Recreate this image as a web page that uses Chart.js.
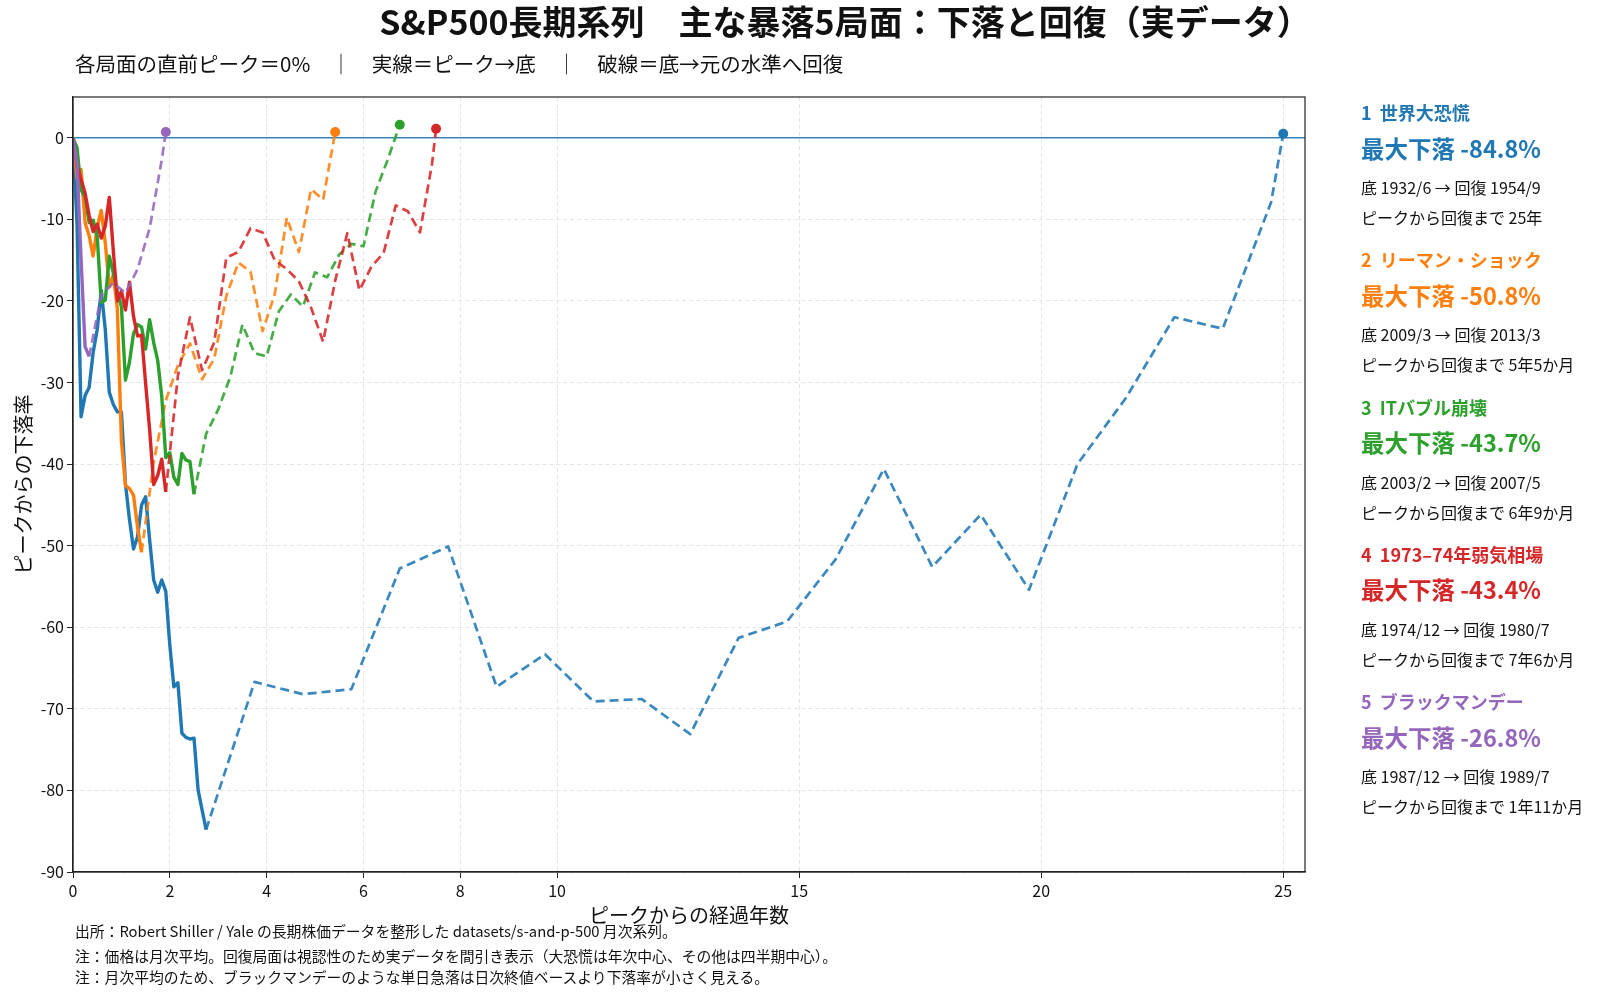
<!DOCTYPE html>
<html lang="ja">
<head>
<meta charset="utf-8">
<script src="https://cdn.jsdelivr.net/npm/chart.js@4.4.0/dist/chart.umd.min.js"></script>
<style>
  html, body { margin: 0; padding: 0; background: #fff; }
  #wrap { position: relative; width: 1600px; height: 997px; overflow: hidden; font-family: "Noto Sans CJK JP", "Noto Sans", sans-serif; color: #111; }
  #chart { position: absolute; left: 0; top: 0; }
  .t { position: absolute; white-space: pre; line-height: 1; }
</style>
</head>
<body>
<div id="wrap">
  <canvas id="chart" width="1600" height="997"></canvas>
  <div class="t" style="left:845px;top:4px;font-size:34px;font-weight:bold;transform:translateX(-50%)">S&amp;P500長期系列　主な暴落5局面：下落と回復（実データ）</div>
  <div class="t" style="left:75px;top:53px;font-size:20.5px">各局面の直前ピーク＝0%　｜　実線＝ピーク→底　｜　破線＝底→元の水準へ回復</div>
  <div id="legend"></div>
  <div class="t" style="left:75px;top:924px;font-size:14.8px">出所：Robert Shiller / Yale の長期株価データを整形した datasets/s-and-p-500 月次系列。</div>
  <div class="t" style="left:75px;top:949px;font-size:14.8px">注：価格は月次平均。回復局面は視認性のため実データを間引き表示（大恐慌は年次中心、その他は四半期中心）。</div>
  <div class="t" style="left:75px;top:970px;font-size:14.8px">注：月次平均のため、ブラックマンデーのような単日急落は日次終値ベースより下落率が小さく見える。</div>
</div>
<script>
// ---- data (drawdown % from the prior peak) ----
var names = ["1  世界大恐慌", "2  リーマン・ショック", "3  ITバブル崩壊", "4  1973–74年弱気相場", "5  ブラックマンデー"];
var colors = ["#1f77b4", "#ff7f0e", "#2ca02c", "#d62728", "#9467bd"];
var maxDrop = ["-84.8%", "-50.8%", "-43.7%", "-43.4%", "-26.8%"];
var bottomText = ["底 1932/6 → 回復 1954/9", "底 2009/3 → 回復 2013/3", "底 2003/2 → 回復 2007/5", "底 1974/12 → 回復 1980/7", "底 1987/12 → 回復 1989/7"];
var spanText = ["ピークから回復まで 25年", "ピークから回復まで 5年5か月", "ピークから回復まで 6年9か月", "ピークから回復まで 7年6か月", "ピークから回復まで 1年11か月"];

// peak -> trough, monthly (month 0 = peak)
var gdFall = [0, -10.6, -34.2, -31.6, -30.6, -26.3, -23.5, -18.7, -23.5, -31.2, -32.7, -33.6, -33.6, -42.4, -46.8, -50.4, -48.9, -45.0, -44.0, -49.3, -54.2, -55.7, -54.2, -55.6, -62.2, -67.3, -66.8, -73.0, -73.5, -73.7, -73.6, -79.9, -82.4, -84.8];
var lehmanFall = [0, -5.0, -3.9, -10.4, -12.0, -14.5, -11.0, -8.9, -12.9, -18.3, -16.8, -21.0, -37.1, -42.6, -43.0, -43.8, -47.7, -50.8];
var itFall = [0, -1.2, -6.4, -7.2, -10.4, -10.1, -12.1, -20.2, -19.9, -14.5, -16.6, -18.9, -20.7, -29.7, -27.5, -24.0, -22.9, -23.2, -25.9, -22.3, -25.1, -27.3, -31.7, -39.2, -38.6, -41.6, -42.5, -38.7, -39.5, -39.7, -43.7];
var bearFall = [0, -3.5, -5.1, -6.8, -9.5, -11.5, -10.6, -12.3, -10.8, -7.3, -13.9, -20.0, -18.8, -21.1, -17.7, -21.9, -24.3, -24.2, -30.1, -35.8, -42.5, -41.4, -39.4, -43.4];
var bmFall = [0, -3.2, -14.9, -25.6, -26.8];

// trough -> recovery, thinned (months from peak)
var gdRecMonths = [33, 45, 57, 69, 81, 93, 105, 117, 129, 141, 153, 165, 177, 189, 201, 213, 225, 237, 249, 261, 273, 285, 297, 300];
var gdRec = [-84.8, -66.7, -68.2, -67.6, -52.8, -50.1, -67.3, -63.3, -69.1, -68.8, -73.1, -61.3, -59.3, -51.7, -40.6, -52.6, -46.2, -55.4, -40.0, -31.9, -22.0, -23.4, -7.9, 0.5];
var lehmanRecMonths = [17, 20, 23, 26, 29, 32, 35, 38, 41, 44, 47, 50, 53, 56, 59, 62, 65];
var lehmanRec = [-50.8, -39.8, -32.2, -27.9, -25.2, -29.6, -27.1, -19.4, -15.3, -16.4, -23.7, -19.2, -9.8, -14.0, -6.3, -7.6, 0.7];
var itRecMonths = [30, 33, 36, 39, 42, 45, 48, 51, 54, 57, 60, 63, 66, 69, 72, 75, 78, 81];
var itRec = [-43.7, -36.3, -33.3, -29.3, -22.9, -26.4, -26.8, -21.3, -19.2, -20.7, -16.5, -17.1, -14.3, -13.0, -13.3, -6.6, -2.7, 1.6];
var bearRecMonths = [23, 26, 29, 32, 35, 38, 41, 44, 47, 50, 53, 56, 59, 62, 65, 68, 71, 74, 77, 80, 83, 86, 89, 90];
var bearRec = [-43.4, -29.2, -22.0, -28.5, -25.1, -14.7, -14.0, -11.1, -11.6, -15.0, -16.1, -17.6, -20.8, -25.0, -17.5, -11.7, -18.7, -15.8, -14.1, -8.3, -9.0, -11.6, -3.2, 1.1];
var bmRecMonths = [4, 7, 10, 13, 16, 19, 22, 23];
var bmRec = [-26.8, -19.3, -17.8, -19.0, -16.1, -11.1, -2.7, 0.7];

var xTicks = [0, 2, 4, 6, 8, 10, 15, 20, 25];
var yTicks = [-90, -80, -70, -60, -50, -40, -30, -20, -10, 0];

var falls = [gdFall, lehmanFall, itFall, bearFall, bmFall];
var recMonths = [gdRecMonths, lehmanRecMonths, itRecMonths, bearRecMonths, bmRecMonths];
var recs = [gdRec, lehmanRec, itRec, bearRec, bmRec];

// ---- legend panel on the right ----
var legend = document.getElementById('legend');
names.forEach(function (n, i) {
    var b = 113 + 147.3 * i;
    var html = '';
    html += '<div class="t" style="left:1361px;top:' + (b - 10) + 'px;font-size:18px;font-weight:bold;color:' + colors[i] + '">' + n + '</div>';
    html += '<div class="t" style="left:1361px;top:' + (b + 23.5) + 'px;font-size:23.5px;font-weight:bold;color:' + colors[i] + '">最大下落 ' + maxDrop[i] + '</div>';
    html += '<div class="t" style="left:1361px;top:' + (b + 66) + 'px;font-size:16px;color:#111">' + bottomText[i] + '</div>';
    html += '<div class="t" style="left:1361px;top:' + (b + 96) + 'px;font-size:16px;color:#111">' + spanText[i] + '</div>';
    legend.insertAdjacentHTML('beforeend', html);
});

// ---- datasets ----
var datasets = [];
falls.forEach(function (vals, i) {
    datasets.push({
        label: names[i] + ' 下落',
        data: vals.map(function (v, m) { return {x: m / 12, y: v}; }),
        borderColor: colors[i],
        borderWidth: 3.4,
        pointRadius: 0,
        order: 10 - 2 * i
    });
    var last = recs[i].length - 1;
    datasets.push({
        label: names[i] + ' 回復',
        data: recs[i].map(function (v, k) { return {x: recMonths[i][k] / 12, y: v}; }),
        borderColor: colors[i] + 'e0',
        borderWidth: 2.7,
        borderDash: [9, 5],
        pointRadius: function (c) { return c.dataIndex === last ? 5 : 0; },
        pointBackgroundColor: colors[i],
        pointBorderWidth: 0,
        order: 9 - 2 * i
    });
});

var framePlugin = {
    id: 'frame',
    beforeDatasetsDraw: function (chart) {
        var a = chart.chartArea, ctx = chart.ctx;
        var y0 = chart.scales.y.getPixelForValue(0);
        ctx.save();
        ctx.strokeStyle = 'rgba(31,119,180,0.9)';
        ctx.lineWidth = 1.5;
        ctx.beginPath();
        ctx.moveTo(a.left, y0);
        ctx.lineTo(a.right, y0);
        ctx.stroke();
        ctx.restore();
    },
    afterDatasetsDraw: function (chart) {
        var a = chart.chartArea, ctx = chart.ctx;
        ctx.save();
        ctx.strokeStyle = '#222';
        ctx.lineWidth = 1.2;
        ctx.strokeRect(a.left, a.top, a.right - a.left, a.bottom - a.top);
        ctx.restore();
    }
};

var tickFont = {family: '"Noto Sans CJK JP", "Noto Sans", sans-serif', size: 16};
var titleFont = {family: '"Noto Sans CJK JP", "Noto Sans", sans-serif', size: 20};

new Chart(document.getElementById('chart').getContext('2d'), {
    type: 'line',
    data: {datasets: datasets},
    options: {
        responsive: false,
        animation: false,
        devicePixelRatio: 1,
        layout: {padding: {left: 0, top: 97, right: 295, bottom: 0}},
        plugins: {legend: {display: false}, tooltip: {enabled: false}},
        elements: {line: {tension: 0, borderJoinStyle: 'round'}},
        scales: {
            x: {
                type: 'linear',
                min: 0,
                max: 25.45,
                afterBuildTicks: function (s) { s.ticks = xTicks.map(function (v) { return {value: v}; }); },
                afterFit: function (s) { s.height = 125; },
                ticks: {font: tickFont, color: '#111', autoSkip: false, maxRotation: 0, padding: 3},
                grid: {color: '#e4e4e4', lineWidth: 1, tickLength: 6, tickColor: '#222', tickWidth: 1},
                border: {display: true, color: '#222', width: 1.2, dash: [4, 3]},
                title: {display: true, text: 'ピークからの経過年数', font: titleFont, color: '#111', padding: {top: 0, bottom: 70}}
            },
            y: {
                min: -90,
                max: 5,
                afterBuildTicks: function (s) { s.ticks = yTicks.map(function (v) { return {value: v}; }); },
                afterFit: function (s) { s.width = 73; },
                ticks: {font: tickFont, color: '#111', padding: 3},
                grid: {color: '#e4e4e4', lineWidth: 1, tickLength: 6, tickColor: '#222', tickWidth: 1},
                border: {display: true, color: '#222', width: 1.2, dash: [4, 3]},
                title: {display: true, text: 'ピークからの下落率', font: titleFont, color: '#111', padding: {top: 11, bottom: 0}}
            }
        }
    },
    plugins: [framePlugin]
});
</script>
</body>
</html>
